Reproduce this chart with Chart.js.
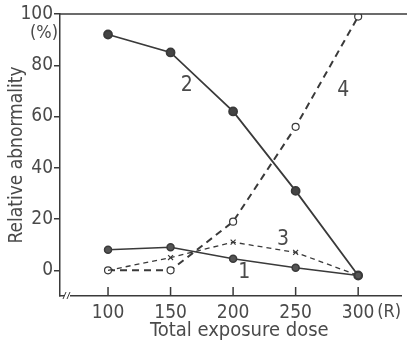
<!DOCTYPE html>
<html lang="en">
<head>
    <meta charset="UTF-8">
    <title>Relative abnormality vs total exposure dose</title>
    <script src="https://cdn.jsdelivr.net/npm/chart.js"></script>
    <style>
        body { margin: 0; background: #fff; }
    </style>
</head>
<body>
    <canvas id="myChart" width="407" height="345"></canvas>

    <script>
        // dose (R) and relative abnormality (%)
        const doses = [100, 150, 200, 250, 300];
        const curve1 = [8, 9, 4.5, 1, -2];
        const curve2 = [92, 85, 62, 31, -2];
        const curve3 = [0, 5, 11, 7, -2];
        const curve4 = [0, 0, 19, 56, 99];
        const yTicks = [0, 20, 40, 60, 80, 100];
        const xTicks = [100, 150, 200, 250, 300];
        // curve number labels: [dose, value, text]
        const curveLabels = [[209, -1, '1'], [163, 72, '2'], [240, 12, '3'], [288, 70, '4']];

        const ink = '#3a3a3a';
        const textCol = '#4a4a4a';
        const fontFam = '"DejaVu Sans Condensed", "DejaVu Sans", sans-serif';

        function pts(vals) {
            return doses.map((d, i) => ({ x: d, y: vals[i] }));
        }

        // top frame line, inner x ticks, axis break, curve numbers and unit notes
        const extras = {
            id: 'extras',
            afterDraw(chart) {
                const ctx = chart.ctx;
                const a = chart.chartArea;
                const xs = chart.scales.x, ys = chart.scales.y;
                ctx.save();
                ctx.strokeStyle = ink;
                ctx.lineWidth = 1.5;
                ctx.beginPath();
                ctx.moveTo(a.left, a.top);
                ctx.lineTo(chart.width, a.top);
                ctx.stroke();

                xTicks.forEach(v => {
                    const px = xs.getPixelForValue(v);
                    ctx.beginPath();
                    ctx.moveTo(px, a.bottom);
                    ctx.lineTo(px, a.bottom - 9);
                    ctx.stroke();
                });

                // axis break
                ctx.fillStyle = '#fff';
                ctx.fillRect(a.left + 4, a.bottom - 2, 6, 4);
                ctx.lineWidth = 1;
                ctx.beginPath();
                ctx.moveTo(a.left + 3, a.bottom + 3); ctx.lineTo(a.left + 6, a.bottom - 4);
                ctx.moveTo(a.left + 7, a.bottom + 3); ctx.lineTo(a.left + 10, a.bottom - 4);
                ctx.stroke();

                ctx.fillStyle = textCol;
                ctx.font = '21px ' + fontFam;
                ctx.textAlign = 'center';
                ctx.textBaseline = 'middle';
                curveLabels.forEach(l => {
                    ctx.fillText(l[2], xs.getPixelForValue(l[0]), ys.getPixelForValue(l[1]));
                });

                ctx.font = '20px ' + fontFam;
                ctx.fillText('Total exposure dose', xs.getPixelForValue(205), a.bottom + 35);

                ctx.font = '18px ' + fontFam;
                ctx.textAlign = 'right';
                ctx.fillText('(%)', a.left - 2, ys.getPixelForValue(92.5));
                ctx.textAlign = 'left';
                ctx.fillText('(R)', xs.getPixelForValue(300) + 19, a.bottom + 16);
                ctx.restore();
            }
        };

        const ctx = document.getElementById('myChart').getContext('2d');
        new Chart(ctx, {
            type: 'line',
            data: {
                datasets: [
                    {
                        label: '1',
                        data: pts(curve1),
                        borderColor: ink,
                        borderWidth: 1.5,
                        pointBackgroundColor: '#555',
                        pointBorderColor: ink,
                        pointRadius: 3.5
                    },
                    {
                        label: '2',
                        data: pts(curve2),
                        borderColor: ink,
                        borderWidth: 1.8,
                        pointBackgroundColor: '#444',
                        pointBorderColor: ink,
                        pointRadius: 4
                    },
                    {
                        label: '3',
                        data: pts(curve3),
                        borderColor: ink,
                        borderWidth: 1.3,
                        borderDash: [5, 4],
                        pointStyle: 'crossRot',
                        pointBorderColor: ink,
                        pointBorderWidth: 1.2,
                        pointRadius: [0, 3.5, 3.5, 3.5, 0]
                    },
                    {
                        label: '4',
                        data: pts(curve4),
                        borderColor: ink,
                        borderWidth: 2,
                        borderDash: [7, 5],
                        pointBackgroundColor: '#fff',
                        pointBorderColor: ink,
                        pointBorderWidth: 1.2,
                        pointRadius: 3.5
                    }
                ]
            },
            options: {
                responsive: false,
                animation: false,
                layout: { padding: { top: 14, right: 0, left: 0, bottom: 0 } },
                plugins: { legend: { display: false }, tooltip: { enabled: false } },
                scales: {
                    x: {
                        type: 'linear',
                        min: 61.6,
                        max: 334.4,
                        afterBuildTicks: s => { s.ticks = xTicks.map(v => ({ value: v })); },
                        afterFit: s => { s.height = 49; },
                        grid: { display: false, drawTicks: false },
                        border: { display: true, color: ink, width: 1.5 },
                        ticks: { color: textCol, font: { family: fontFam, size: 19 }, padding: 6, maxRotation: 0 }
                    },
                    y: {
                        min: -10,
                        max: 100,
                        afterBuildTicks: s => { s.ticks = yTicks.map(v => ({ value: v })); },
                        afterFit: s => { s.width = 60; },
                        grid: { drawOnChartArea: false, drawTicks: true, tickLength: 6, color: ink, lineWidth: 1.5 },
                        border: { display: true, color: ink, width: 1.5 },
                        ticks: { color: textCol, font: { family: fontFam, size: 19 }, padding: 1 },
                        title: {
                            display: true,
                            text: 'Relative abnormality',
                            color: textCol,
                            font: { family: fontFam, size: 19 },
                            padding: { top: 6, bottom: 0 }
                        }
                    }
                }
            },
            plugins: [extras]
        });
    </script>
</body>
</html>
